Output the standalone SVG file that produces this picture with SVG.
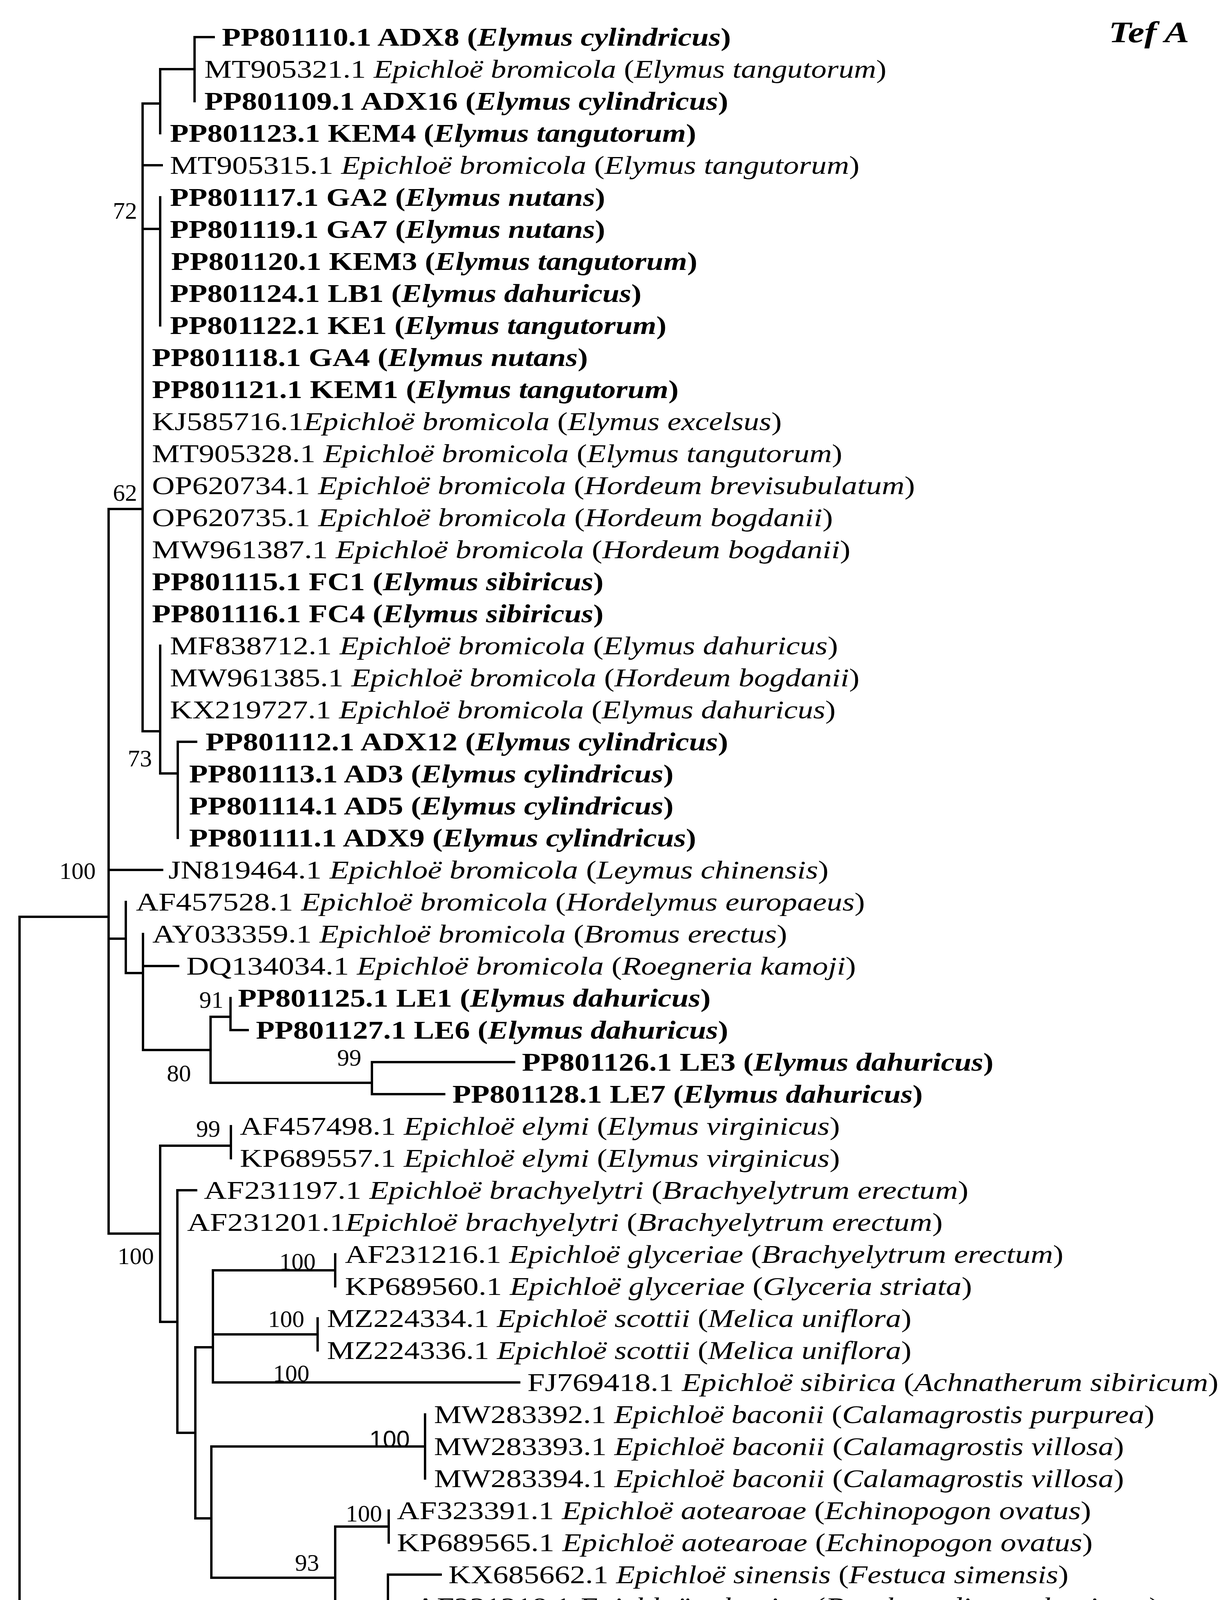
<svg xmlns="http://www.w3.org/2000/svg" width="3151" height="4761" viewBox="0 0 3151 4761">
<style>
.t{font-family:"Liberation Serif","Times New Roman",serif;font-size:66px;fill:#000}
.b{font-weight:bold}
.i{font-style:italic}
.bs{font-family:"Liberation Serif","Times New Roman",serif;font-size:62px;fill:#000;text-anchor:end}
.br{fill:none;stroke:#000;stroke-width:6;stroke-linecap:square}
</style>
<rect width="3151" height="4761" fill="#fff"/>
<g id="connectors" class="br">
<path d="M50 2347V4523M50 2347H278M50 4523H568"/>
<path d="M278 1303V3158M278 1303H365M278 2227H415M278 2403H322M278 3158H410"/>
<path d="M365 265V1872M365 265H410M365 423H414M365 586H410M365 1872H410"/>
<path d="M410 177V341M410 177H498M498 95V259M498 95H547"/>
<path d="M410 505V833"/>
<path d="M410 1653V1980M410 1980H455M455 1899V2145M455 1899H502"/>
<path d="M322 2309V2491M322 2491H366M366 2391V2688M366 2473H456M366 2688H539"/>
<path d="M539 2603V2772M539 2603H590M539 2772H952M590 2555V2637M590 2637H634"/>
<path d="M952 2719V2801M952 2719H1316M952 2801H1137"/>
<path d="M410 2933V3384M410 2933H591M410 3384H454M591 2883V2965"/>
<path d="M454 3047V3668M454 3047H502M454 3668H500"/>
<path d="M500 3449V3887M500 3449H545M500 3887H541"/>
<path d="M545 3252V3539M545 3252H858M545 3416H813M545 3539H1329M858 3211V3293M813 3375V3457"/>
<path d="M541 3703V4039M541 3703H1088M541 4039H858M1088 3621V3785"/>
<path d="M858 3908V4153M858 3908H995M858 4153H993M995 3867V3949"/>
<path d="M993 4031V4359M993 4031H1128M993 4154H1037M993 4359H1037M1037 4113V4195"/>
<path d="M1037 4277V4441M1037 4277H1128M1037 4359H1082M1037 4441H1173"/>
<path d="M336 4707H522"/>
</g>
<g id="leaves">
<g id="n1"><text class="t b" x="568" y="117" textLength="1303" lengthAdjust="spacingAndGlyphs">PP801110.1 ADX8 (<tspan class="i">Elymus cylindricus</tspan>)</text></g>
<g id="n2"><text class="t" x="523" y="199" textLength="1746" lengthAdjust="spacingAndGlyphs">MT905321.1 <tspan class="i">Epichloë bromicola</tspan> (<tspan class="i">Elymus tangutorum</tspan>)</text></g>
<g id="n3"><text class="t b" x="523" y="281" textLength="1341" lengthAdjust="spacingAndGlyphs">PP801109.1 ADX16 (<tspan class="i">Elymus cylindricus</tspan>)</text></g>
<g id="n4"><text class="t b" x="435" y="363" textLength="1347" lengthAdjust="spacingAndGlyphs">PP801123.1 KEM4 (<tspan class="i">Elymus tangutorum</tspan>)</text></g>
<g id="n5"><text class="t" x="435" y="445" textLength="1765" lengthAdjust="spacingAndGlyphs">MT905315.1 <tspan class="i">Epichloë bromicola</tspan>  (<tspan class="i">Elymus tangutorum</tspan>)</text></g>
<g id="n6"><text class="t b" x="435" y="527" textLength="1114" lengthAdjust="spacingAndGlyphs">PP801117.1 GA2 (<tspan class="i">Elymus nutans</tspan>)</text></g>
<g id="n7"><text class="t b" x="435" y="609" textLength="1114" lengthAdjust="spacingAndGlyphs">PP801119.1 GA7 (<tspan class="i">Elymus nutans</tspan>)</text></g>
<g id="n8"><text class="t b" x="438" y="691" textLength="1347" lengthAdjust="spacingAndGlyphs">PP801120.1 KEM3 (<tspan class="i">Elymus tangutorum</tspan>)</text></g>
<g id="n9"><text class="t b" x="435" y="773" textLength="1207" lengthAdjust="spacingAndGlyphs">PP801124.1 LB1 (<tspan class="i">Elymus dahuricus</tspan>)</text></g>
<g id="n10"><text class="t b" x="435" y="855" textLength="1271" lengthAdjust="spacingAndGlyphs">PP801122.1 KE1 (<tspan class="i">Elymus tangutorum</tspan>)</text></g>
<g id="n11"><text class="t b" x="389" y="937" textLength="1116" lengthAdjust="spacingAndGlyphs">PP801118.1 GA4 (<tspan class="i">Elymus nutans</tspan>)</text></g>
<g id="n12"><text class="t b" x="389" y="1019" textLength="1348" lengthAdjust="spacingAndGlyphs">PP801121.1 KEM1 (<tspan class="i">Elymus tangutorum</tspan>)</text></g>
<g id="n13"><text class="t" x="389" y="1101" textLength="1612" lengthAdjust="spacingAndGlyphs">KJ585716.1<tspan class="i">Epichloë bromicola</tspan> (<tspan class="i">Elymus excelsus</tspan>)</text></g>
<g id="n14"><text class="t" x="389" y="1183" textLength="1767" lengthAdjust="spacingAndGlyphs">MT905328.1 <tspan class="i">Epichloë bromicola</tspan>  (<tspan class="i">Elymus tangutorum</tspan>)</text></g>
<g id="n15"><text class="t" x="389" y="1265" textLength="1953" lengthAdjust="spacingAndGlyphs">OP620734.1 <tspan class="i">Epichloë bromicola</tspan>  (<tspan class="i">Hordeum brevisubulatum</tspan>)</text></g>
<g id="n16"><text class="t" x="389" y="1347" textLength="1743" lengthAdjust="spacingAndGlyphs">OP620735.1 <tspan class="i">Epichloë bromicola</tspan>  (<tspan class="i">Hordeum bogdanii</tspan>)</text></g>
<g id="n17"><text class="t" x="389" y="1429" textLength="1788" lengthAdjust="spacingAndGlyphs">MW961387.1 <tspan class="i">Epichloë bromicola</tspan>  (<tspan class="i">Hordeum bogdanii</tspan>)</text></g>
<g id="n18"><text class="t b" x="389" y="1511" textLength="1156" lengthAdjust="spacingAndGlyphs">PP801115.1 FC1 (<tspan class="i">Elymus sibiricus</tspan>)</text></g>
<g id="n19"><text class="t b" x="389" y="1593" textLength="1156" lengthAdjust="spacingAndGlyphs">PP801116.1 FC4 (<tspan class="i">Elymus sibiricus</tspan>)</text></g>
<g id="n20"><text class="t" x="435" y="1675" textLength="1710" lengthAdjust="spacingAndGlyphs">MF838712.1 <tspan class="i">Epichloë bromicola</tspan>  (<tspan class="i">Elymus dahuricus</tspan>)</text></g>
<g id="n21"><text class="t" x="435" y="1757" textLength="1765" lengthAdjust="spacingAndGlyphs">MW961385.1 <tspan class="i">Epichloë bromicola</tspan>  (<tspan class="i">Hordeum bogdanii</tspan>)</text></g>
<g id="n22"><text class="t" x="435" y="1839" textLength="1704" lengthAdjust="spacingAndGlyphs">KX219727.1 <tspan class="i">Epichloë bromicola</tspan>  (<tspan class="i">Elymus dahuricus</tspan>)</text></g>
<g id="n23"><text class="t b" x="526" y="1921" textLength="1338" lengthAdjust="spacingAndGlyphs">PP801112.1 ADX12 (<tspan class="i">Elymus cylindricus</tspan>)</text></g>
<g id="n24"><text class="t b" x="484" y="2003" textLength="1240" lengthAdjust="spacingAndGlyphs">PP801113.1 AD3 (<tspan class="i">Elymus cylindricus</tspan>)</text></g>
<g id="n25"><text class="t b" x="484" y="2085" textLength="1240" lengthAdjust="spacingAndGlyphs">PP801114.1 AD5 (<tspan class="i">Elymus cylindricus</tspan>)</text></g>
<g id="n26"><text class="t b" x="484" y="2167" textLength="1298" lengthAdjust="spacingAndGlyphs">PP801111.1 ADX9 (<tspan class="i">Elymus cylindricus</tspan>)</text></g>
<g id="n27"><text class="t" x="431" y="2249" textLength="1690" lengthAdjust="spacingAndGlyphs">JN819464.1 <tspan class="i">Epichloë bromicola</tspan>  (<tspan class="i">Leymus chinensis</tspan>)</text></g>
<g id="n28"><text class="t" x="348" y="2331" textLength="1866" lengthAdjust="spacingAndGlyphs">AF457528.1 <tspan class="i">Epichloë bromicola</tspan>  (<tspan class="i">Hordelymus europaeus</tspan>)</text></g>
<g id="n29"><text class="t" x="390" y="2413" textLength="1625" lengthAdjust="spacingAndGlyphs">AY033359.1 <tspan class="i">Epichloë bromicola</tspan>  (<tspan class="i">Bromus erectus</tspan>)</text></g>
<g id="n30"><text class="t" x="477" y="2495" textLength="1714" lengthAdjust="spacingAndGlyphs">DQ134034.1 <tspan class="i">Epichloë bromicola</tspan>  (<tspan class="i">Roegneria kamoji</tspan>)</text></g>
<g id="n31"><text class="t b" x="609" y="2577" textLength="1210" lengthAdjust="spacingAndGlyphs">PP801125.1 LE1 (<tspan class="i">Elymus dahuricus</tspan>)</text></g>
<g id="n32"><text class="t b" x="655" y="2659" textLength="1209" lengthAdjust="spacingAndGlyphs">PP801127.1 LE6 (<tspan class="i">Elymus dahuricus</tspan>)</text></g>
<g id="n33"><text class="t b" x="1336" y="2741" textLength="1207" lengthAdjust="spacingAndGlyphs">PP801126.1 LE3 (<tspan class="i">Elymus dahuricus</tspan>)</text></g>
<g id="n34"><text class="t b" x="1158" y="2823" textLength="1204" lengthAdjust="spacingAndGlyphs">PP801128.1 LE7 (<tspan class="i">Elymus dahuricus</tspan>)</text></g>
<g id="n35"><text class="t" x="614" y="2905" textLength="1536" lengthAdjust="spacingAndGlyphs">AF457498.1 <tspan class="i">Epichloë elymi</tspan>  (<tspan class="i">Elymus virginicus</tspan>)</text></g>
<g id="n36"><text class="t" x="614" y="2987" textLength="1536" lengthAdjust="spacingAndGlyphs">KP689557.1 <tspan class="i">Epichloë elymi</tspan>  (<tspan class="i">Elymus virginicus</tspan>)</text></g>
<g id="n37"><text class="t" x="522" y="3069" textLength="1957" lengthAdjust="spacingAndGlyphs">AF231197.1 <tspan class="i">Epichloë brachyelytri</tspan>  (<tspan class="i">Brachyelytrum erectum</tspan>)</text></g>
<g id="n38"><text class="t" x="479" y="3151" textLength="1934" lengthAdjust="spacingAndGlyphs">AF231201.1<tspan class="i">Epichloë brachyelytri</tspan>  (<tspan class="i">Brachyelytrum erectum</tspan>)</text></g>
<g id="n39"><text class="t" x="883" y="3233" textLength="1839" lengthAdjust="spacingAndGlyphs">AF231216.1 <tspan class="i">Epichloë glyceriae</tspan>  (<tspan class="i">Brachyelytrum erectum</tspan>)</text></g>
<g id="n40"><text class="t" x="883" y="3315" textLength="1605" lengthAdjust="spacingAndGlyphs">KP689560.1 <tspan class="i">Epichloë glyceriae</tspan>  (<tspan class="i">Glyceria striata</tspan>)</text></g>
<g id="n41"><text class="t" x="837" y="3397" textLength="1496" lengthAdjust="spacingAndGlyphs">MZ224334.1 <tspan class="i">Epichloë scottii</tspan>  (<tspan class="i">Melica uniflora</tspan>)</text></g>
<g id="n42"><text class="t" x="837" y="3479" textLength="1496" lengthAdjust="spacingAndGlyphs">MZ224336.1 <tspan class="i">Epichloë scottii</tspan>  (<tspan class="i">Melica uniflora</tspan>)</text></g>
<g id="n43"><text class="t" x="1350" y="3561" textLength="1769" lengthAdjust="spacingAndGlyphs">FJ769418.1 <tspan class="i">Epichloë sibirica</tspan>  (<tspan class="i">Achnatherum sibiricum</tspan>)</text></g>
<g id="n44"><text class="t" x="1111" y="3643" textLength="1844" lengthAdjust="spacingAndGlyphs">MW283392.1 <tspan class="i">Epichloë baconii</tspan>  (<tspan class="i">Calamagrostis purpurea</tspan>)</text></g>
<g id="n45"><text class="t" x="1111" y="3725" textLength="1766" lengthAdjust="spacingAndGlyphs">MW283393.1 <tspan class="i">Epichloë baconii</tspan>  (<tspan class="i">Calamagrostis villosa</tspan>)</text></g>
<g id="n46"><text class="t" x="1111" y="3807" textLength="1766" lengthAdjust="spacingAndGlyphs">MW283394.1 <tspan class="i">Epichloë baconii</tspan>  (<tspan class="i">Calamagrostis villosa</tspan>)</text></g>
<g id="n47"><text class="t" x="1016" y="3889" textLength="1777" lengthAdjust="spacingAndGlyphs">AF323391.1 <tspan class="i">Epichloë aotearoae</tspan>  (<tspan class="i">Echinopogon ovatus</tspan>)</text></g>
<g id="n48"><text class="t" x="1016" y="3971" textLength="1781" lengthAdjust="spacingAndGlyphs">KP689565.1 <tspan class="i">Epichloë aotearoae</tspan>  (<tspan class="i">Echinopogon ovatus</tspan>)</text></g>
<g id="n49"><text class="t" x="1148" y="4053" textLength="1587" lengthAdjust="spacingAndGlyphs">KX685662.1 <tspan class="i">Epichloë sinensis</tspan>  (<tspan class="i">Festuca simensis</tspan>)</text></g>
<g id="n50"><text class="t" x="1061" y="4135" textLength="1907" lengthAdjust="spacingAndGlyphs">AF231218.1 <tspan class="i">Epichloë sylvatica</tspan>  (<tspan class="i">Brachypodium sylvaticum</tspan>)</text></g>
<g id="n51"><text class="t" x="1061" y="4217" textLength="1914" lengthAdjust="spacingAndGlyphs">EU709884.1 <tspan class="i">Epichloë sylvatica</tspan>  (<tspan class="i">Brachypodium sylvaticum</tspan>)</text></g>
<g id="n52"><text class="t" x="1148" y="4299" textLength="1475" lengthAdjust="spacingAndGlyphs">AF231206.1 <tspan class="i">Epichloë clarkii</tspan>  (<tspan class="i">Holcus lanatus</tspan>)</text></g>
<g id="n53"><text class="t" x="1107" y="4381" textLength="1577" lengthAdjust="spacingAndGlyphs">AF231227.1 <tspan class="i">Epichloë typhina</tspan>  (<tspan class="i">Phleum pratense</tspan>)</text></g>
<g id="n54"><text class="t" x="1194" y="4463" textLength="1436" lengthAdjust="spacingAndGlyphs">KF811546.1 <tspan class="i">Epichloë typhina</tspan>  (<tspan class="i">Poa trivialis</tspan>)</text></g>
<g id="n55"><text class="t" x="614" y="4545" textLength="1500" lengthAdjust="spacingAndGlyphs">AF276508.1 <tspan class="i">Claviceps purpurea</tspan> (<tspan class="i">Secale cereale</tspan>)</text></g>
</g>
<g id="support">
<text class="bs" x="351" y="560">72</text>
<text class="bs" x="351" y="1282">62</text>
<text class="bs" x="389" y="1962">73</text>
<text class="bs" x="245" y="2250">100</text>
<text class="bs" x="572" y="2580">91</text>
<text class="bs" x="489" y="2768">80</text>
<text class="bs" x="925" y="2728">99</text>
<text class="bs" x="564" y="2910">99</text>
<text class="bs" x="394" y="3236">100</text>
<text class="bs" x="808" y="3250">100</text>
<text class="bs" x="779" y="3397">100</text>
<text class="bs" x="792" y="3536">100</text>
<text class="bs" x="1049" y="3705" style="font-family:'Liberation Sans',Arial,sans-serif">100</text>
<text class="bs" x="817" y="4021">93</text>
<text class="bs" x="978" y="3895">100</text>
<text class="bs" x="978" y="4240">100</text>
</g>
<g id="title"><text class="t b i" x="2838" y="108" style="font-size:76px" textLength="206" lengthAdjust="spacingAndGlyphs">Tef A</text></g>
<g id="scale"><text class="t" x="429" y="4680" text-anchor="middle">0.01</text></g>
</svg>
